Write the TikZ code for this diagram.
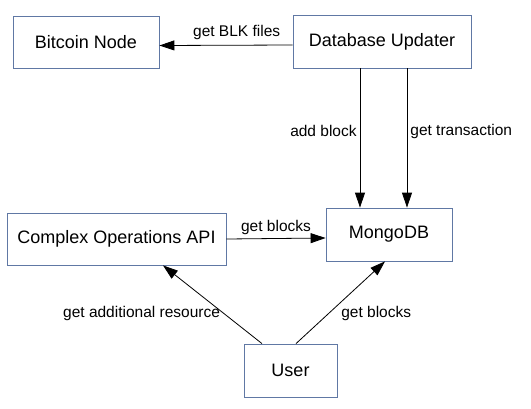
\documentclass[tikz,border=0pt]{standalone}
\usepackage{fontspec}
\setmainfont{Liberation Sans}
\usetikzlibrary{arrows.meta}
\definecolor{boxline}{RGB}{96,120,164}

\begin{document}
\begin{tikzpicture}[
  x=1pt, y=-1pt,
  box/.style = {shape=rectangle, draw=boxline, line width=0.8pt, inner sep=0pt,
                font=\fontsize{18}{20}\selectfont},
  lbl/.style = {font=\fontsize{15.5}{17}\selectfont, inner sep=3pt},
  arr/.style = {line width=0.8pt, -{Triangle[length=15pt,width=10pt]}}
]
  \useasboundingbox (0,0) rectangle (531,408);
  \node[box, minimum width=146pt, minimum height=52pt] (btc) at (86,42) {Bitcoin Node};
  \node[box, minimum width=178pt, minimum height=53pt] (dbu) at (382,41.5) {Database Updater};
  \node[box, minimum width=126pt, minimum height=53pt] (mongo) at (389,234.5) {MongoDB};
  \node[box, minimum width=219pt, minimum height=52pt] (api) at (116.5,239) {Complex Operations API};
  \node[box, minimum width=93pt, minimum height=53pt] (user) at (290.5,370.5) {User};

  \draw[arr] ([yshift=-3.5pt]dbu.west) -- node[lbl, above, pos=0.42, yshift=2pt] {get BLK files} ([yshift=-3.5pt]btc.east);
  \draw[arr] ([xshift=-22pt]dbu.south) -- node[lbl, left, pos=0.45] {add block} ([xshift=-29pt]mongo.north);
  \draw[arr] ([xshift=25pt]dbu.south) -- node[lbl, right, pos=0.45] {get transaction} ([xshift=18pt]mongo.north);
  \draw[arr] (api.east) -- node[lbl, above] {get blocks} ([yshift=-3.5pt]mongo.west);
  \draw[arr] ([xshift=-28.5pt]user.north) -- node[lbl, anchor=east, pos=0.39] {get additional resource} ([xshift=46.5pt]api.south);
  \draw[arr] ([xshift=5.5pt]user.north) -- node[lbl, anchor=west, pos=0.37, xshift=9pt] {get blocks} ([xshift=-4pt]mongo.south);
\end{tikzpicture}
\end{document}
